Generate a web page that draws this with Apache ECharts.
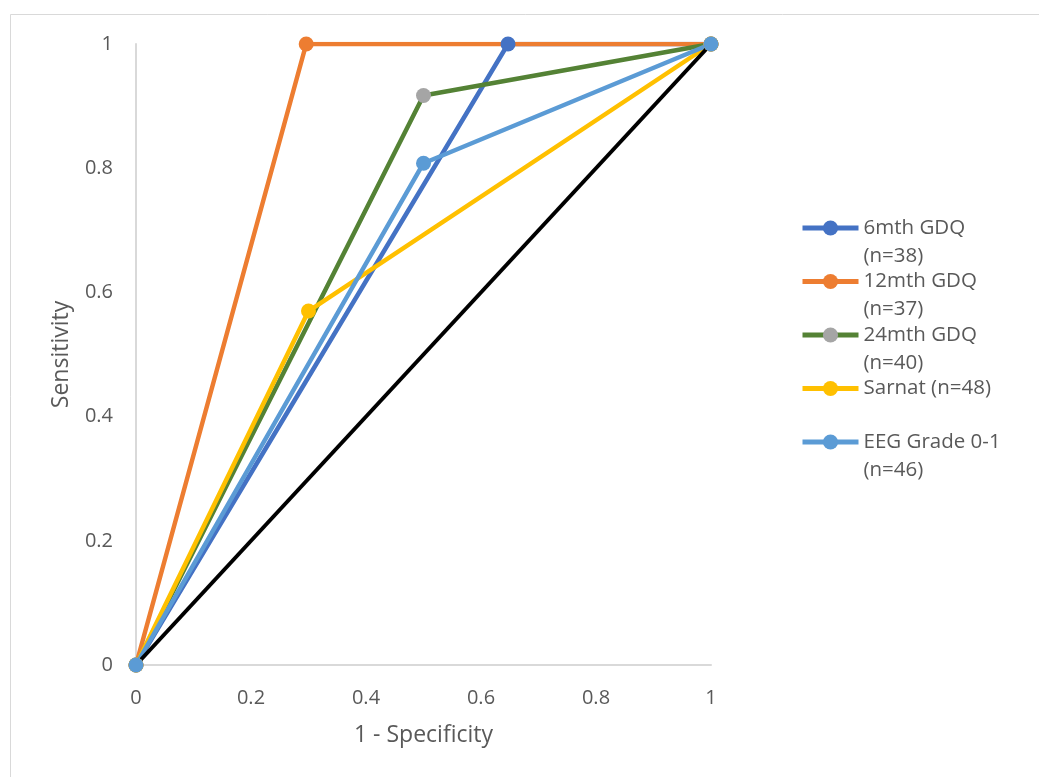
<!DOCTYPE html>
<html>
<head>
<meta charset="utf-8">
<script src="https://cdn.jsdelivr.net/npm/echarts@6/dist/echarts.min.js"></script>
<style>
html,body{margin:0;padding:0;background:#fff;}
#chart{width:1039px;height:777px;}
</style>
</head>
<body>
<div id="chart"></div>
<script>
// Series names (legend labels) and values
const seriesNames = ['6mth GDQ\n(n=38)', '12mth GDQ\n(n=37)', '24mth GDQ\n(n=40)', 'Sarnat (n=48)', 'EEG Grade 0-1\n(n=46)'];
const x6mth = [0, 0.647, 1];
const y6mth = [0, 1, 1];
const x12mth = [0, 0.296, 1];
const y12mth = [0, 1, 1];
const x24mth = [0, 0.5, 1];
const y24mth = [0, 0.917, 1];
const xSarnat = [0, 0.3, 1];
const ySarnat = [0, 0.57, 1];
const xEEG = [0, 0.5, 1];
const yEEG = [0, 0.808, 1];
const xRef = [0, 1];
const yRef = [0, 1];
const axisTicks = [0, 0.2, 0.4, 0.6, 0.8, 1];

const lineColors = ['#4472C4', '#ED7D31', '#548235', '#FFC000', '#5B9BD5'];
const markerColors = ['#4472C4', '#ED7D31', '#A5A5A5', '#FFC000', '#5B9BD5'];
const xs = [x6mth, x12mth, x24mth, xSarnat, xEEG];
const ys = [y6mth, y12mth, y24mth, ySarnat, yEEG];

const pairs = (xa, ya) => xa.map((v, i) => [v, ya[i]]);
const FONT = '"Open Sans", sans-serif';
const TXT = '#595959';
const LW = 4.5;

const series = seriesNames.map((n, i) => ({
  name: n,
  type: 'line',
  data: pairs(xs[i], ys[i]),
  symbol: 'circle',
  symbolSize: 15,
  showSymbol: true,
  lineStyle: { color: lineColors[i], width: LW },
  itemStyle: { color: markerColors[i] },
  emphasis: { disabled: true },
  animation: false
}));
series.push({
  name: 'ref',
  type: 'line',
  data: pairs(xRef, yRef),
  symbol: 'none',
  lineStyle: { color: '#000000', width: 4 },
  emphasis: { disabled: true },
  animation: false
});

const tickFmt = v => String(axisTicks.find(t => Math.abs(t - v) < 1e-9) ?? v);

const chart = echarts.init(document.getElementById('chart'), null, { renderer: 'canvas' });
chart.setOption({
  backgroundColor: '#ffffff',
  animation: false,
  textStyle: { fontFamily: FONT },
  graphic: [{
    type: 'rect', silent: true,
    shape: { x: 10.5, y: 14.5, width: 1200, height: 900 },
    style: { fill: 'none', stroke: '#d9d9d9', lineWidth: 1 }
  }],
  grid: { left: 136, top: 44, right: 328, bottom: 112 },
  xAxis: {
    type: 'value', min: 0, max: 1, interval: 0.2,
    name: '1 - Specificity', nameLocation: 'middle', nameGap: 59,
    nameTextStyle: { color: TXT, fontSize: 23, fontFamily: FONT },
    axisLine: { show: true, lineStyle: { color: '#d9d9d9', width: 2 } },
    axisTick: { show: false },
    splitLine: { show: false },
    axisLabel: { color: TXT, fontSize: 20, fontFamily: FONT, margin: 23, formatter: tickFmt }
  },
  yAxis: {
    type: 'value', min: 0, max: 1, interval: 0.2,
    name: 'Sensitivity', nameLocation: 'middle', nameGap: 63,
    nameTextStyle: { color: TXT, fontSize: 23, fontFamily: FONT },
    axisLine: { show: true, lineStyle: { color: '#d9d9d9', width: 2 } },
    axisTick: { show: false },
    splitLine: { show: false },
    axisLabel: { color: TXT, fontSize: 20, fontFamily: FONT, margin: 23, formatter: tickFmt }
  },
  legend: {
    data: seriesNames,
    orient: 'vertical',
    left: 800, top: 186,
    padding: 0,
    itemWidth: 56, itemHeight: 19,
    itemGap: -30.5,
    selectedMode: false,
    lineStyle: { width: 5 },
    formatter: n => n.indexOf('\n') >= 0 ? '\n' + n : '\n' + n + '\n',
    textStyle: { color: TXT, fontSize: 20.5, fontFamily: FONT, lineHeight: 28 }
  },
  series: series
});
</script>
</body>
</html>
